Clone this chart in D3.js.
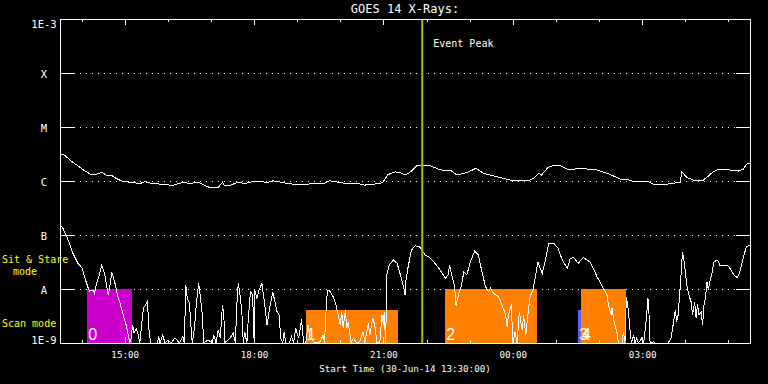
<!DOCTYPE html>
<html>
<head>
<meta charset="utf-8">
<script src="https://cdn.jsdelivr.net/npm/d3@7"></script>
<style>
  body { margin: 0; background: #000; }
  svg { display: block; }
  text { font-family: "DejaVu Sans Mono", monospace; fill: #fff; }
</style>
</head>
<body>
<div id="chart"></div>
<script>
// plot window: 30-Jun-14 13:30 UT, 16 hours
var startTime = Date.UTC(2014, 5, 30, 13, 30);
var spanHours = 16;

// goes flare classes on the flux axis
var yTickValues = [1e-3, 1e-4, 1e-5, 1e-6, 1e-7, 1e-8, 1e-9];
var yTickLabels = ["1E-3", "X", "M", "C", "B", "A", "1E-9"];

// long channel: [minutes after start, flux W/m^2]
var longChannel = [
  [0, 3.16e-6], [6, 3.03e-6], [15, 2.38e-6], [25, 1.90e-6], [34, 1.55e-6], [43, 1.33e-6], [50, 1.33e-6], [58, 1.45e-6], [64, 1.29e-6], [71, 1.29e-6],
  [78, 1.12e-6], [88, 0.97e-6], [99, 0.95e-6], [111, 0.89e-6], [118, 0.97e-6], [127, 0.91e-6], [141, 0.87e-6], [157, 0.83e-6], [164, 0.89e-6], [173, 0.95e-6],
  [180, 0.89e-6], [192, 0.95e-6], [201, 0.83e-6], [208, 0.76e-6], [220, 0.76e-6], [226, 0.95e-6], [229, 0.82e-6], [236, 0.82e-6], [248, 0.96e-6], [257, 0.89e-6],
  [266, 0.96e-6], [280, 1.00e-6], [287, 0.93e-6], [296, 1.01e-6], [306, 0.96e-6], [317, 0.89e-6], [338, 0.85e-6], [350, 0.89e-6], [368, 0.91e-6], [375, 1.01e-6],
  [387, 0.95e-6], [401, 0.89e-6], [415, 0.89e-6], [424, 0.84e-6], [442, 0.89e-6], [449, 0.93e-6], [456, 1.31e-6], [466, 1.47e-6], [473, 1.45e-6], [480, 1.28e-6],
  [487, 1.45e-6], [496, 1.90e-6], [503, 1.98e-6], [515, 1.92e-6], [526, 1.67e-6], [538, 1.53e-6], [543, 1.60e-6], [552, 1.29e-6], [566, 1.43e-6], [579, 1.72e-6],
  [589, 1.39e-6], [608, 1.20e-6], [626, 1.04e-6], [640, 1.01e-6], [652, 1.01e-6], [659, 1.12e-6], [666, 1.39e-6], [670, 1.29e-6], [679, 1.79e-6], [689, 1.98e-6],
  [696, 1.92e-6], [705, 1.67e-6], [712, 1.60e-6], [719, 1.72e-6], [733, 1.67e-6], [747, 1.60e-6], [765, 1.33e-6], [779, 1.09e-6], [793, 1.04e-6], [798, 0.97e-6],
  [819, 0.97e-6], [826, 0.87e-6], [844, 0.87e-6], [863, 0.95e-6], [865, 1.49e-6], [872, 1.17e-6], [881, 1.04e-6], [895, 1.04e-6], [900, 1.17e-6], [909, 1.49e-6],
  [914, 1.60e-6], [932, 1.60e-6], [944, 1.53e-6], [951, 1.66e-6], [955, 2.04e-6], [960, 2.13e-6]
];

// short channel: [minutes after start, flux W/m^2]
var shortChannel = [
  [0, 1.58e-7], [4, 1.33e-7], [9, 9.7e-8], [14, 6.53e-8], [18, 4.58e-8], [25, 2.99e-8], [31, 2.42e-8], [34, 1.69e-8], [39, 1.06e-8], [41, 9.18e-9],
  [46, 9.58e-9], [48, 8.32e-9], [51, 1.28e-8], [54, 1.69e-8], [58, 2.70e-8], [62, 1.95e-8], [67, 7.74e-9], [69, 1.03e-8], [72, 2.04e-8], [76, 1.37e-8],
  [80, 7.74e-9], [83, 5.82e-9], [88, 3.30e-9], [92, 2.16e-9], [95, 1.41e-9], [97, 1e-9], [99, 1.22e-9], [101, 2.16e-9], [103, 1.51e-9], [106, 1.87e-9],
  [109, 1.41e-9], [111, 1e-9], [116, 4.39e-9], [119, 5.06e-9], [122, 6.00e-9], [123, 2.16e-9], [126, 1e-9], [136, 1e-9], [137, 1.37e-9], [139, 1e-9],
  [143, 1.41e-9], [146, 1e-9], [150, 1.14e-9], [155, 1e-9], [160, 1.25e-9], [166, 1e-9], [171, 1.31e-9], [173, 1e-9], [175, 1.19e-8], [177, 6.73e-9],
  [180, 5.67e-9], [182, 2.16e-9], [184, 1e-9], [187, 1.87e-9], [190, 5.82e-9], [193, 1.28e-8], [196, 5.82e-9], [198, 3.30e-9], [200, 1e-9], [206, 1.14e-9],
  [212, 1e-9], [214, 1.41e-9], [217, 1e-9], [220, 1.74e-9], [223, 1.22e-9], [226, 5.06e-9], [228, 3.30e-9], [229, 1e-9], [236, 1.22e-9], [241, 1.51e-9],
  [244, 1e-9], [246, 5.06e-9], [248, 1.28e-8], [250, 8.91e-9], [253, 3.80e-9], [255, 1e-9], [257, 1.62e-9], [260, 1e-9], [262, 2.87e-9], [265, 8.91e-9],
  [268, 7.74e-9], [270, 1.14e-9], [271, 9.58e-9], [274, 6.73e-9], [277, 9.58e-9], [281, 1.28e-8], [283, 7.74e-9], [285, 5.06e-9], [288, 2.16e-9], [292, 4.70e-9],
  [296, 8.91e-9], [299, 5.82e-9], [302, 3.80e-9], [305, 3.30e-9], [307, 1.22e-9], [310, 1e-9], [312, 1.62e-9], [314, 1e-9], [319, 1e-9], [322, 1.31e-9],
  [325, 1e-9], [328, 1.87e-9], [332, 1.22e-9], [335, 2.16e-9], [336, 2.78e-9], [339, 1e-9], [342, 1e-9], [345, 2.16e-9], [348, 1.22e-9], [355, 1e-9],
  [362, 1.05e-9], [366, 1.41e-9], [368, 1e-9], [371, 6.73e-9], [373, 9.58e-9], [376, 8.91e-9], [380, 7.20e-9], [384, 5.06e-9], [387, 3.30e-9], [390, 2.16e-9],
  [392, 3.80e-9], [394, 1.87e-9], [397, 4.09e-9], [399, 1.87e-9], [401, 2.48e-9], [405, 1e-9], [408, 1.22e-9], [413, 1e-9], [417, 1.05e-9], [422, 1.62e-9],
  [424, 1e-9], [429, 2.32e-9], [431, 1.41e-9], [435, 2.87e-9], [438, 2.16e-9], [441, 1e-9], [445, 1.05e-9], [448, 3.30e-9], [450, 2.16e-9], [451, 3.80e-9],
  [453, 1e-9], [455, 1.95e-8], [458, 2.78e-8], [464, 3.44e-8], [469, 2.99e-8], [473, 1.95e-8], [476, 1.37e-8], [478, 1.10e-8], [480, 7.74e-9], [481, 1.37e-8],
  [484, 2.42e-8], [489, 5.27e-8], [494, 6.34e-8], [500, 6.07e-8], [505, 4.91e-8], [508, 4.26e-8], [513, 3.96e-8], [520, 3.20e-8], [527, 2.42e-8], [532, 1.95e-8],
  [536, 1.58e-8], [540, 1.82e-8], [542, 2.78e-8], [545, 1.82e-8], [549, 1.10e-8], [551, 4.91e-9], [555, 8.32e-9], [558, 1.10e-8], [562, 2.09e-8], [566, 1.82e-8],
  [571, 3.20e-8], [577, 5.06e-8], [582, 4.26e-8], [587, 2.09e-8], [592, 1.10e-8], [596, 8.91e-9], [599, 1.03e-8], [603, 8.32e-9], [610, 7.20e-9], [615, 5.06e-9],
  [620, 3.30e-9], [622, 2.00e-9], [624, 3.30e-9], [628, 5.21e-9], [630, 1e-9], [633, 1.62e-9], [636, 1e-9], [639, 3.80e-9], [643, 1.74e-9], [645, 3.30e-9],
  [648, 1.41e-9], [652, 4.39e-9], [654, 7.20e-9], [658, 9.58e-9], [661, 1.58e-8], [665, 3.20e-8], [668, 2.42e-8], [671, 1.95e-8], [675, 3.20e-8], [680, 7.02e-8],
  [687, 7.02e-8], [693, 5.67e-8], [698, 3.70e-8], [703, 2.78e-8], [706, 2.42e-8], [710, 3.70e-8], [715, 3.80e-8], [719, 3.20e-8], [721, 2.99e-8], [728, 3.80e-8],
  [737, 3.20e-8], [742, 2.42e-8], [747, 1.69e-8], [751, 1.37e-8], [756, 1.03e-8], [761, 7.74e-9], [763, 5.06e-9], [767, 3.30e-9], [768, 4.39e-9], [771, 2.48e-9],
  [775, 1.51e-9], [777, 1e-9], [782, 1e-9], [784, 1.62e-9], [786, 1e-9], [788, 7.20e-9], [791, 3.80e-9], [793, 1.74e-9], [795, 1e-9], [798, 1.41e-9],
  [800, 1e-9], [802, 1.22e-9], [805, 1e-9], [809, 1.22e-9], [812, 1e-9], [815, 2.16e-9], [818, 6.73e-9], [819, 5.06e-9], [821, 1e-9], [826, 1.05e-9],
  [828, 1e-9], [846, 1e-9], [850, 1.22e-9], [853, 2.16e-9], [856, 4.09e-9], [858, 2.48e-9], [860, 3.30e-9], [864, 1.82e-8], [866, 4.91e-8], [869, 2.78e-8],
  [872, 1.19e-8], [875, 7.74e-9], [878, 5.82e-9], [880, 3.30e-9], [883, 5.82e-9], [885, 2.87e-9], [887, 5.21e-9], [889, 3.30e-9], [892, 3.80e-9], [894, 2.16e-9],
  [896, 5.06e-9], [898, 6.73e-9], [900, 1.37e-8], [902, 9.58e-9], [904, 1.37e-8], [907, 1.95e-8], [910, 3.20e-8], [915, 3.44e-8], [918, 2.78e-8], [923, 2.78e-8],
  [928, 2.78e-8], [932, 2.42e-8], [937, 1.87e-8], [942, 1.62e-8], [946, 2.09e-8], [951, 3.96e-8], [955, 6.07e-8], [960, 6.53e-8]
];

// observing blocks along the bottom
var blockStart = [38, 342, 536, 721, 725];
var blockEnd = [100, 470, 664, 725, 787];
var blockLevel = [1e-8, 4.1e-9, 1e-8, 4.1e-9, 1e-8];
var blockLabel = ["0", "1", "2", "3", "4"];
var blockKind = ["stare", "scan", "scan", "other", "scan"];

// event peak, minutes after start
var eventPeak = 504;

function makeChart() {

  var svgWidth = 768;
  var svgHeight = 384;

  var margin = { top: 19, right: 18, bottom: 41, left: 60 };
  var width = svgWidth - margin.left - margin.right;
  var height = svgHeight - margin.top - margin.bottom;

  var kindColor = { stare: "#cc00cc", scan: "#ff8000", other: "#6060ff" };

  var svg = d3.select("#chart")
    .append("svg")
    .attr("width", svgWidth)
    .attr("height", svgHeight)
    .style("background", "#000");

  var chartGroup = svg.append("g")
    .attr("transform", `translate(${margin.left}, ${margin.top})`);

  var toDate = m => new Date(startTime + m * 60000);

  var xScale = d3.scaleUtc()
    .domain([toDate(0), toDate(spanHours * 60)])
    .range([0, width]);

  var yScale = d3.scaleLog()
    .domain([1e-9, 1e-3])
    .range([height, 0]);

  // dotted class lines
  chartGroup.selectAll(".grid")
    .data(yTickValues.slice(1, -1))
    .enter()
    .append("line")
    .attr("x1", 14)
    .attr("x2", width - 14)
    .attr("y1", d => yScale(d))
    .attr("y2", d => yScale(d))
    .attr("stroke", "#fff")
    .attr("stroke-dasharray", "1,5")
    .attr("shape-rendering", "crispEdges");

  // blocks
  var blocks = blockStart.map((s, i) => ({
    start: s, end: blockEnd[i], level: blockLevel[i], label: blockLabel[i], kind: blockKind[i]
  }));

  chartGroup.selectAll(".block")
    .data(blocks)
    .enter()
    .append("rect")
    .attr("x", d => xScale(toDate(d.start)))
    .attr("width", d => xScale(toDate(d.end)) - xScale(toDate(d.start)))
    .attr("y", d => yScale(d.level))
    .attr("height", d => height - yScale(d.level))
    .attr("fill", d => kindColor[d.kind])
    .attr("shape-rendering", "crispEdges");

  chartGroup.selectAll(".blockLabel")
    .data(blocks)
    .enter()
    .append("text")
    .attr("x", d => xScale(toDate(d.start)) + 1)
    .attr("y", height - 3)
    .style("font-family", "'Liberation Sans', sans-serif")
    .style("font-size", "16px")
    .text(d => d.label);

  // flux curves
  var line = d3.line()
    .x(d => xScale(toDate(d[0])))
    .y(d => yScale(d[1]));

  [longChannel, shortChannel].forEach(function(series) {
    chartGroup.append("path")
      .datum(series)
      .attr("d", line)
      .attr("fill", "none")
      .attr("stroke", "#fff")
      .attr("stroke-width", 1)
      .attr("shape-rendering", "crispEdges");
  });

  // event peak marker
  var peakX = xScale(toDate(eventPeak));
  chartGroup.append("line")
    .attr("x1", peakX)
    .attr("x2", peakX)
    .attr("y1", 0)
    .attr("y2", height)
    .attr("stroke", "#99cc00")
    .attr("stroke-width", 2);

  chartGroup.append("text")
    .attr("x", peakX + 11)
    .attr("y", 28)
    .style("font-size", "10px")
    .text("Event Peak");

  // axes
  var leftAxis = d3.axisLeft(yScale)
    .tickValues(yTickValues)
    .tickSizeInner(-14)
    .tickSizeOuter(0)
    .tickFormat((d, i) => yTickLabels[i]);

  var rightAxis = d3.axisRight(yScale)
    .tickValues(yTickValues)
    .tickSizeInner(-14)
    .tickSizeOuter(0)
    .tickFormat("");

  var yAxis = chartGroup.append("g").call(leftAxis);
  chartGroup.append("g").attr("transform", `translate(${width}, 0)`).call(rightAxis);

  yAxis.selectAll("text")
    .attr("x", -16)
    .attr("dy", null)
    .attr("y", (d, i) => i === 0 ? 8 : (i === yTickValues.length - 1 ? 0 : 4))
    .attr("text-anchor", "middle")
    .style("font-size", "10.5px");

  var hours = d3.utcHour.every(1);
  var threeHours = d3.utcHour.every(3);

  chartGroup.append("g")
    .call(d3.axisTop(xScale).ticks(hours).tickSizeInner(-3).tickSizeOuter(0).tickFormat(""));
  chartGroup.append("g")
    .call(d3.axisTop(xScale).ticks(threeHours).tickSizeInner(-6).tickSizeOuter(0).tickFormat(""));
  chartGroup.append("g")
    .attr("transform", `translate(0, ${height})`)
    .call(d3.axisBottom(xScale).ticks(hours).tickSizeInner(-3).tickSizeOuter(0).tickFormat(""));

  var xAxis = chartGroup.append("g")
    .attr("transform", `translate(0, ${height})`)
    .call(d3.axisBottom(xScale).ticks(threeHours).tickSizeInner(-6).tickSizeOuter(0)
      .tickPadding(8.5).tickFormat(d3.utcFormat("%H:%M")));

  xAxis.selectAll("text").style("font-size", "9.2px");

  chartGroup.selectAll(".domain, .tick line")
    .attr("stroke", "#fff")
    .attr("shape-rendering", "crispEdges");
  chartGroup.selectAll(".tick text").attr("fill", "#fff").style("font-family", "'DejaVu Sans Mono', monospace");

  // frame
  chartGroup.append("rect")
    .attr("width", width)
    .attr("height", height)
    .attr("fill", "none")
    .attr("stroke", "#fff")
    .attr("shape-rendering", "crispEdges");

  // titles
  svg.append("text")
    .attr("x", margin.left + width / 2)
    .attr("y", 13)
    .attr("text-anchor", "middle")
    .style("font-size", "12px")
    .text("GOES 14 X-Rays:");

  svg.append("text")
    .attr("x", margin.left + width / 2)
    .attr("y", 372)
    .attr("text-anchor", "middle")
    .style("font-size", "9.2px")
    .text(d3.utcFormat("Start Time (%d-%b-%y %H:%M:%S)")(new Date(startTime)));

  // mode labels
  var modeLabels = svg.append("g").style("font-size", "10px");
  modeLabels.append("text").attr("x", 2).attr("y", 263).attr("fill", "#ffff00").style("fill", "#ffff00").text("Sit & Stare");
  modeLabels.append("text").attr("x", 13).attr("y", 275).style("fill", "#ffff00").text("mode");
  modeLabels.append("text").attr("x", 2).attr("y", 327).style("fill", "#ffff00").text("Scan mode");
}

makeChart();
</script>
</body>
</html>
